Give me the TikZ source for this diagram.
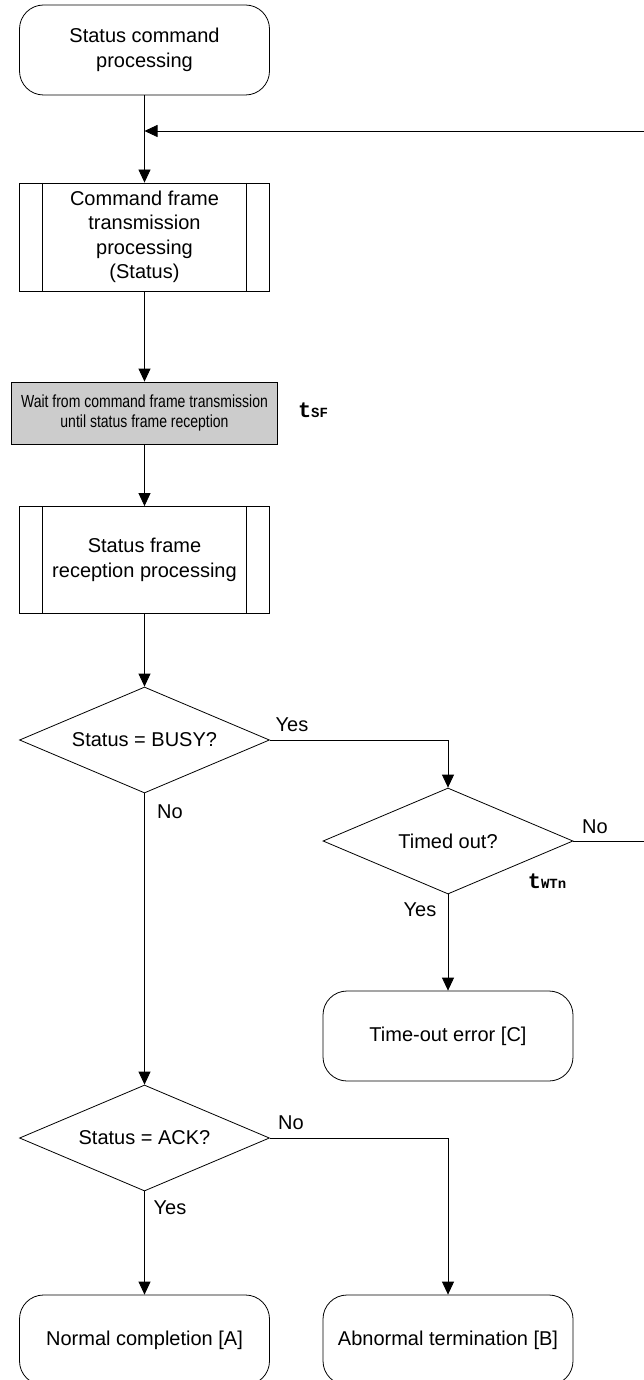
\documentclass[tikz,border=0pt]{standalone}
\usepackage{fontspec}
\setmainfont{Liberation Sans}
\newfontfamily\condfont{Liberation Sans}[FakeStretch=0.8]
\newfontfamily\ttmark{Liberation Mono}
\usetikzlibrary{shapes.geometric,arrows.meta}
\newcommand{\tsym}[1]{{\ttmark\bfseries\fontsize{22}{22}\selectfont t\fontsize{14}{14}\selectfont #1}}

\begin{document}
\begin{tikzpicture}[x=1pt,y=-1pt, line width=0.8pt,
  every node/.style={font=\fontsize{20}{24.5}\selectfont},
  term/.style={draw,rounded corners=24pt,minimum width=250pt,minimum height=90pt,inner sep=0pt,align=center},
  proc/.style={draw,minimum width=250pt,inner sep=0pt,align=center,
    path picture={\draw ([xshift=23pt]path picture bounding box.north west) -- ([xshift=23pt]path picture bounding box.south west);
                  \draw ([xshift=-23pt]path picture bounding box.north east) -- ([xshift=-23pt]path picture bounding box.south east);}},
  waitbox/.style={draw,fill=black!20,minimum width=266pt,minimum height=62pt,inner sep=0pt,align=center,
    font=\condfont\fontsize{17.5}{20}\selectfont},
  decision/.style={draw,diamond,aspect=2.34,minimum width=250pt,minimum height=106pt,inner sep=0pt},
  arr/.style={-{Triangle[length=13pt,width=12pt]}}]
  \useasboundingbox (0,0) rectangle (643,1380);
  \node[term] (start) at (144.5,50) {Status command\\processing};
  \node[proc,minimum height=108pt] (cmdtx) at (144.5,237) {Command frame\\transmission\\processing\\(Status)};
  \node[waitbox] (wait) at (144.5,413) {Wait from command frame transmission\\until status frame reception};
  \node (tsf) at (313,410) {\tsym{SF}};
  \node[proc,minimum height=107pt] (statrx) at (144.5,560) {Status frame\\reception processing};
  \node[decision] (busy) at (144.5,740) {Status = BUSY?};
  \node[decision] (tmo) at (448,841) {Timed out?};
  \node (twtn) at (547,881) {\tsym{WTn}};
  \node[term] (tmoerr) at (448,1036) {Time-out error [C]};
  \node[decision] (ack) at (144.5,1138) {Status = ACK?};
  \node[term] (normal) at (144.5,1340) {Normal completion [A]};
  \node[term] (abnormal) at (448,1340) {Abnormal termination [B]};
  % branch labels
  \node (busyyes) at (292,725) {Yes};
  \node (busyno) at (170,812) {No};
  \node (tmono) at (595,827) {No};
  \node (tmoyes) at (420,910) {Yes};
  \node (ackno) at (291,1123) {No};
  \node (ackyes) at (170,1208) {Yes};
  \coordinate (join) at (144.5,131);
  \coordinate (loop) at (655,131);
  \draw[arr] (start) -- (cmdtx);
  \draw[arr] (cmdtx) -- (wait);
  \draw[arr] (wait) -- (statrx);
  \draw[arr] (statrx) -- (busy);
  \draw[arr] (busy.east) -| (tmo.north);
  \draw[arr] (tmo) -- (tmoerr);
  \draw[arr] (tmo.east) -| (loop) -- (join);
  \draw[arr] (busy) -- (ack);
  \draw[arr] (ack) -- (normal);
  \draw[arr] (ack.east) -| (abnormal.north);
\end{tikzpicture}
\end{document}
